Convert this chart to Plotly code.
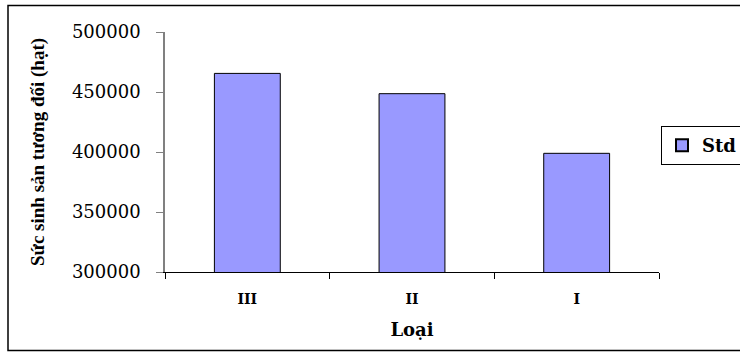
import plotly.graph_objects as go

# Relative fecundity (seeds) by grade
categories = ["III", "II", "I"]
values = [465500, 448600, 398900]
series_name = "Std"
y_ticks = [300000, 350000, 400000, 450000, 500000]

W, H = 740, 352
L, R, T, B = 165, 81, 32, 80
pw, ph = W - L - R, H - T - B

def px_x(x):
    return (x - L) / pw

def px_y(y):
    return (H - B - y) / ph

fig = go.Figure()
fig.add_trace(go.Bar(
    x=categories,
    y=values,
    name=series_name,
    width=0.4,
    marker=dict(color="#9999FF", line=dict(color="#000000", width=1)),
    showlegend=True,
))

fig.update_layout(
    width=W,
    height=H,
    margin=dict(l=L, r=R, t=T, b=B, autoexpand=False),
    paper_bgcolor="white",
    plot_bgcolor="white",
    showlegend=True,
    bargap=0.6,
    legend=dict(
        x=px_x(661), y=px_y(126), xanchor="left", yanchor="top",
        bordercolor="#000000", borderwidth=1, bgcolor="white",
        font=dict(family="DejaVu Serif", size=18, color="#000000", weight="bold"),
        itemsizing="constant",
    ),
    xaxis=dict(
        type="category",
        showline=True, linecolor="#000000", linewidth=1,
        ticks="outside", tickson="boundaries", ticklen=6, tickcolor="#000000",
        showgrid=False, zeroline=False,
        tickfont=dict(family="DejaVu Serif", size=14, color="#000000", weight="bold"),
        ticklabelstandoff=14,
        title=dict(text="Loại", standoff=17,
                   font=dict(family="DejaVu Serif", size=18, color="#000000", weight="bold")),
    ),
    yaxis=dict(
        range=[300000, 500000],
        tickvals=y_ticks,
        ticktext=[str(v) for v in y_ticks],
        showline=True, linecolor="#808080", linewidth=1.5,
        ticks="outside", ticklen=7, tickcolor="#808080",
        showgrid=False, zeroline=False,
        tickfont=dict(family="DejaVu Serif", size=18, color="#000000"),
        ticklabelstandoff=12,
        title=dict(text="Sức sinh sản tương đối (hạt)", standoff=22,
                   font=dict(family="Liberation Serif", size=19, color="#000000", weight="bold")),
    ),
    shapes=[dict(
        type="rect", xref="paper", yref="paper",
        x0=px_x(8), x1=px_x(760), y0=px_y(350.5), y1=px_y(5.5),
        line=dict(color="#000000", width=1.5), fillcolor="rgba(0,0,0,0)",
        layer="below",
    )],
)

fig.write_html("out.html")
